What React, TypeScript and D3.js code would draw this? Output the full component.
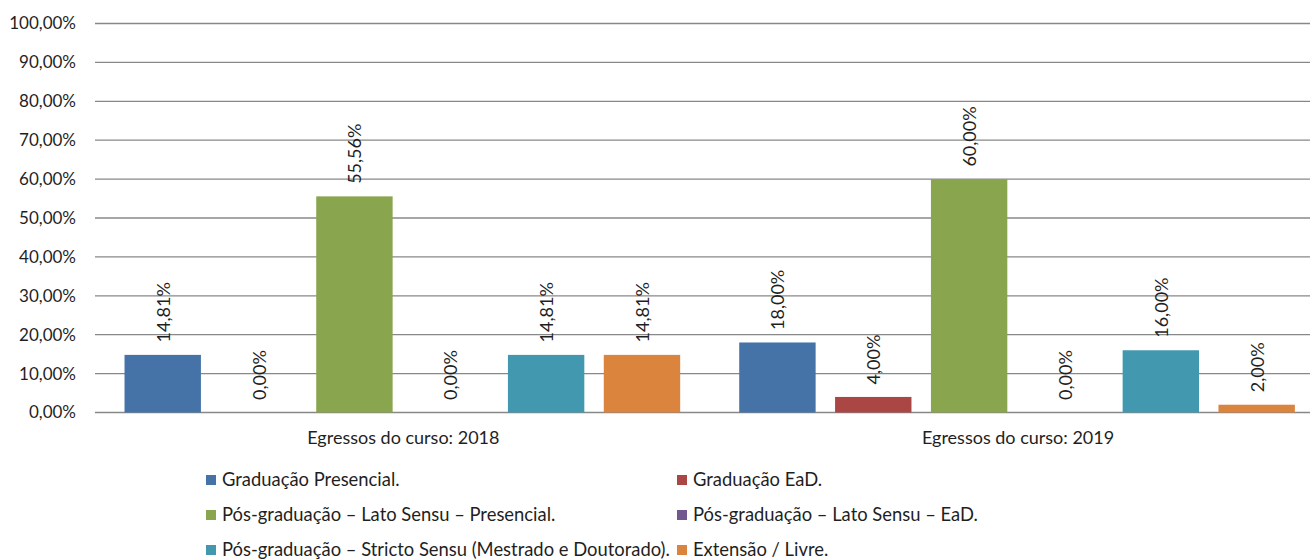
import React, { useEffect, useRef } from 'react';
import * as d3 from 'd3';

const categories = ['Egressos do curso: 2018', 'Egressos do curso: 2019'];
const seriesNames = [
  'Graduação Presencial.',
  'Graduação EaD.',
  'Pós-graduação – Lato Sensu – Presencial.',
  'Pós-graduação – Lato Sensu – EaD.',
  'Pós-graduação – Stricto Sensu (Mestrado e Doutorado).',
  'Extensão / Livre.',
];
const seriesColors = ['#4572A7', '#AA4643', '#89A54E', '#71588F', '#4198AF', '#DB843D'];
const values2018 = [14.81, 0, 55.56, 0, 14.81, 14.81];
const values2019 = [18.0, 4.0, 60.0, 0, 16.0, 2.0];
const yTicks = [0, 10, 20, 30, 40, 50, 60, 70, 80, 90, 100];

const W = 1310;
const H = 560;
const FONT = 'Lato, "Open Sans", sans-serif';
const TXT = '#1f1f1f';

const fmt = (v: number) => v.toFixed(2).replace('.', ',') + '%';

const App = () => {
  const svgRef = useRef<SVGSVGElement>(null);

  useEffect(() => {
    const svg = d3.select(svgRef.current);
    svg.selectAll('*').remove();

    const left = 95;
    const right = 1324.4;
    const top = 23.5;
    const bottom = 412.5;

    const y = d3.scaleLinear().domain([0, 100]).range([bottom, top]);
    const x0 = d3.scaleBand().domain(categories).range([left, right]).padding(0);
    const x1 = d3
      .scaleBand()
      .domain(seriesNames)
      .range([0, x0.bandwidth()])
      .paddingInner(0.203)
      .paddingOuter(0.308);

    // gridlines
    svg.append('g')
      .selectAll('line')
      .data(yTicks)
      .enter()
      .append('line')
      .attr('x1', left)
      .attr('x2', W)
      .attr('y1', d => y(d))
      .attr('y2', d => y(d))
      .attr('stroke', '#888')
      .attr('stroke-width', 1.3);

    // y tick labels
    svg.append('g')
      .selectAll('text')
      .data(yTicks)
      .enter()
      .append('text')
      .attr('x', 76)
      .attr('y', d => y(d))
      .attr('dy', '0.35em')
      .attr('text-anchor', 'end')
      .attr('font-family', FONT)
      .attr('font-size', 17)
      .attr('fill', TXT)
      .text(d => fmt(d));

    const table = categories.map((c, i) => ({
      cat: c,
      vals: i === 0 ? values2018 : values2019,
    }));

    const groups = svg.append('g')
      .selectAll('g')
      .data(table)
      .enter()
      .append('g')
      .attr('transform', d => `translate(${x0(d.cat)},0)`);

    groups.selectAll('rect')
      .data(d => d.vals.map((v, j) => ({ v, name: seriesNames[j], color: seriesColors[j] })))
      .enter()
      .append('rect')
      .attr('x', d => x1(d.name)!)
      .attr('width', x1.bandwidth())
      .attr('y', d => y(d.v))
      .attr('height', d => bottom - y(d.v))
      .attr('fill', d => d.color);

    groups.selectAll('text.lbl')
      .data(d => d.vals.map((v, j) => ({ v, name: seriesNames[j] })))
      .enter()
      .append('text')
      .attr('class', 'lbl')
      .attr('transform', d => `translate(${x1(d.name)! + x1.bandwidth() / 2},${y(d.v) - 12.5}) rotate(-90)`)
      .attr('text-anchor', 'start')
      .attr('dominant-baseline', 'central')
      .attr('font-family', FONT)
      .attr('font-size', 18)
      .attr('fill', TXT)
      .text(d => fmt(d.v));

    // category labels
    svg.append('g')
      .selectAll('text')
      .data(categories)
      .enter()
      .append('text')
      .attr('x', d => x0(d)! + x0.bandwidth() / 2 + 1)
      .attr('y', 444)
      .attr('text-anchor', 'middle')
      .attr('font-family', FONT)
      .attr('font-size', 18)
      .attr('fill', TXT)
      .text(d => d);

    // legend
    const colX = [206, 677];
    const rowY = [480, 515, 550];
    const legend = svg.append('g')
      .selectAll('g')
      .data(seriesNames)
      .enter()
      .append('g')
      .attr('transform', (d, i) => `translate(${colX[i % 2]},${rowY[Math.floor(i / 2)]})`);

    legend.append('rect')
      .attr('x', 0)
      .attr('y', -5)
      .attr('width', 10)
      .attr('height', 10)
      .attr('fill', (d, i) => seriesColors[i]);

    legend.append('text')
      .attr('x', 16)
      .attr('y', 0)
      .attr('dy', '0.35em')
      .attr('font-family', FONT)
      .attr('font-size', 18.4)
      .attr('fill', TXT)
      .text(d => d);
  }, []);

  return (
    <svg
      ref={svgRef}
      width={W}
      height={H}
      style={{ position: 'absolute', left: 0, top: 0, background: '#fff' }}
    />
  );
};

export default App;
